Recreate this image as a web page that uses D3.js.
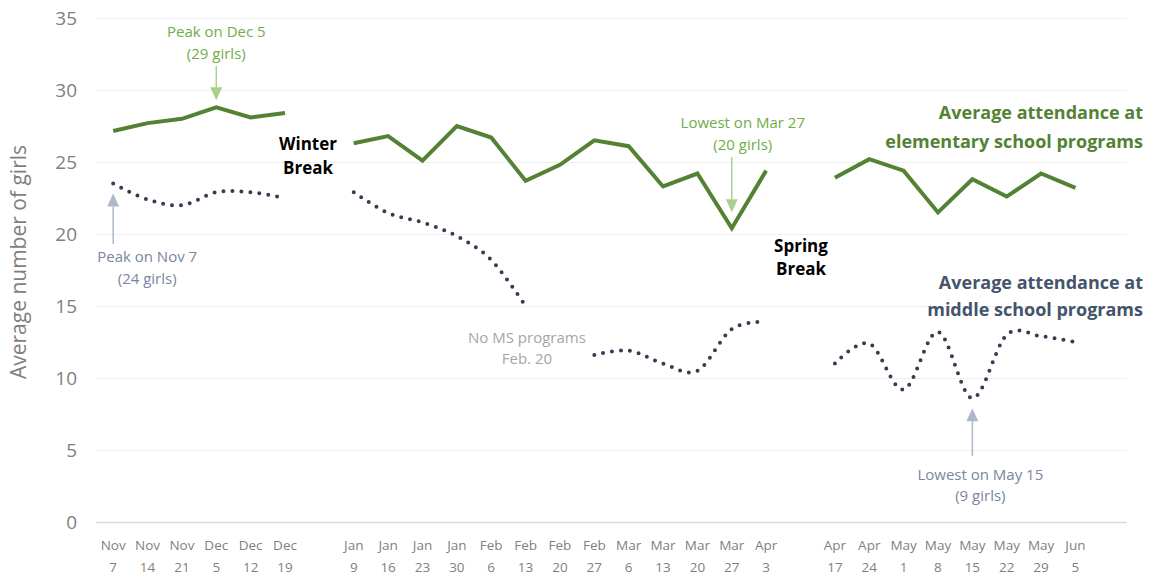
<!DOCTYPE html>
<html>
<head>
<meta charset="utf-8">
<script src="https://cdn.jsdelivr.net/npm/d3@7"></script>
<style>
  html, body { margin: 0; padding: 0; background: #fff; }
  svg { display: block; font-family: "Open Sans", Lato, sans-serif; }
</style>
</head>
<body>
<svg id="chart" width="1150" height="577"></svg>
<script>
// Weekly session dates; empty strings are the school breaks (no sessions)
const categories = [
  "Nov 7", "Nov 14", "Nov 21", "Dec 5", "Dec 12", "Dec 19", "",
  "Jan 9", "Jan 16", "Jan 23", "Jan 30", "Feb 6", "Feb 13", "Feb 20", "Feb 27",
  "Mar 6", "Mar 13", "Mar 20", "Mar 27", "Apr 3", "",
  "Apr 17", "Apr 24", "May 1", "May 8", "May 15", "May 22", "May 29", "Jun 5", ""
];

// Average attendance at elementary school programs
const elementary = [
  27.15, 27.7, 28.0, 28.8, 28.1, 28.4, null,
  26.3, 26.8, 25.1, 27.5, 26.7, 23.7, 24.8, 26.5,
  26.1, 23.3, 24.2, 20.4, 24.4, null,
  23.9, 25.2, 24.4, 21.5, 23.8, 22.6, 24.2, 23.2, null
];

// Average attendance at middle school programs (none on Feb 20)
const middle = [
  23.5, 22.4, 22.0, 22.9, 22.9, 22.5, null,
  22.9, 21.45, 20.8, 19.85, 18.2, 15.0, null, 11.6,
  11.9, 11.0, 10.5, 13.4, 13.9, null,
  11.0, 12.4, 9.2, 13.2, 8.6, 13.0, 12.9, 12.5, null
];

const yTicks = [0, 5, 10, 15, 20, 25, 30, 35];

const svg = d3.select("#chart");
const plotLeft = 96, plotRight = 1127, plotTop = 18, plotBottom = 522;

const x = d3.scaleBand()
  .domain(d3.range(categories.length))
  .range([plotLeft, plotRight])
  .padding(0);
const cx = i => x(i) + x.bandwidth() / 2;

const y = d3.scaleLinear().domain([0, 35]).range([plotBottom, plotTop]);

// Horizontal gridlines and y tick labels
const yAxis = svg.append("g")
  .attr("transform", `translate(${plotLeft},0)`)
  .call(d3.axisLeft(y).tickValues(yTicks).tickSize(-(plotRight - plotLeft)).tickPadding(19));
yAxis.select(".domain").remove();
yAxis.selectAll(".tick line")
  .attr("stroke", d => d === 0 ? "#d9d9d9" : "#efefef")
  .attr("stroke-width", d => d === 0 ? 1.5 : 1);
yAxis.selectAll(".tick text")
  .attr("fill", "#7f7f7f")
  .style("font-size", "19px")
  .style("font-family", "'Open Sans', sans-serif");

// Category labels, two lines each (month / day)
const xAxis = svg.append("g")
  .attr("transform", `translate(0,${plotBottom})`)
  .call(d3.axisBottom(x)
    .tickValues(d3.range(categories.length).filter(i => categories[i] !== ""))
    .tickSize(0)
    .tickFormat(""));
xAxis.select(".domain").remove();
xAxis.selectAll(".tick").each(function (i) {
  const parts = categories[i].split(" ");
  const t = d3.select(this).append("text")
    .attr("fill", "#7f7f7f")
    .attr("text-anchor", "middle")
    .style("font-size", "13.5px")
    .style("font-family", "'Open Sans', sans-serif");
  t.append("tspan").attr("x", 0).attr("y", 28).text(parts[0]);
  t.append("tspan").attr("x", 0).attr("y", 50).text(parts[1]);
});

// Y axis title
svg.append("text")
  .attr("transform", `translate(26,262) rotate(-90)`)
  .attr("text-anchor", "middle")
  .attr("fill", "#7f7f7f")
  .style("font-size", "21px")
  .text("Average number of girls");

// Elementary line: straight segments
const elemLine = d3.line()
  .defined(d => d != null)
  .x((d, i) => cx(i))
  .y(d => y(d));
svg.append("path")
  .datum(elementary)
  .attr("fill", "none")
  .attr("stroke", "#548235")
  .attr("stroke-width", 4)
  .attr("stroke-linejoin", "miter")
  .attr("d", elemLine);

// Middle school line: smoothed, round dots
const msLine = d3.line()
  .defined(d => d != null)
  .x((d, i) => cx(i))
  .y(d => y(d))
  .curve(d3.curveCatmullRom.alpha(0));
svg.append("path")
  .datum(middle)
  .attr("fill", "none")
  .attr("stroke", "#333f50")
  .attr("stroke-width", 4)
  .attr("stroke-linecap", "round")
  .attr("stroke-dasharray", "0 9")
  .attr("d", msLine);

// Arrow helper: vertical shaft with triangular head at (px, tipY)
function arrow(px, fromY, tipY, color) {
  const dir = tipY > fromY ? 1 : -1;
  const headLen = 13, headW = 6;
  svg.append("line")
    .attr("x1", px).attr("x2", px)
    .attr("y1", fromY).attr("y2", tipY - dir * headLen)
    .attr("stroke", color).attr("stroke-width", 1.5);
  svg.append("path")
    .attr("d", `M${px},${tipY} L${px - headW},${tipY - dir * headLen} L${px + headW},${tipY - dir * headLen} Z`)
    .attr("fill", color);
}

function label(lines, px, py, color, size, weight, anchor, lh) {
  const t = svg.append("text")
    .attr("text-anchor", anchor || "middle")
    .attr("fill", color)
    .style("font-size", size + "px")
    .style("font-weight", weight || "normal");
  lines.forEach((s, k) => t.append("tspan").attr("x", px).attr("y", py + k * lh).text(s));
}

const idx = name => categories.indexOf(name);

// Peak on Dec 5 (elementary)
{
  const i = idx("Dec 5");
  arrow(cx(i), 66, y(elementary[i]) - 7, "#a9d18e");
  label(["Peak on Dec 5", "(29 girls)"], cx(i), 37, "#70ad47", 15, "normal", "middle", 22);
}
// Lowest on Mar 27 (elementary)
{
  const i = idx("Mar 27");
  arrow(cx(i), 157, y(elementary[i]) - 16, "#a9d18e");
  label(["Lowest on Mar 27", "(20 girls)"], cx(i) + 11, 128, "#70ad47", 15, "normal", "middle", 22);
}
// Peak on Nov 7 (middle school)
{
  const i = idx("Nov 7");
  arrow(cx(i), 244, y(middle[i]) + 10, "#adb9ca");
  label(["Peak on Nov 7", "(24 girls)"], cx(i) + 34, 262, "#7886a0", 15, "normal", "middle", 22);
}
// Lowest on May 15 (middle school)
{
  const i = idx("May 15");
  arrow(cx(i), 456, y(middle[i]) + 10, "#adb9ca");
  label(["Lowest on May 15", "(9 girls)"], cx(i) + 8, 480, "#7886a0", 15, "normal", "middle", 21);
}
// No middle school programs on Feb 20
{
  const i = idx("Feb 20");
  label(["No MS programs", "Feb. 20"], cx(i) - 33, 343, "#a6a6a6", 15, "normal", "middle", 21);
}

// Break labels
label(["Winter", "Break"], 308, 150, "#000000", 17, "bold", "middle", 24);
label(["Spring", "Break"], 801, 252, "#000000", 17, "bold", "middle", 23);

// Series titles
label(["Average attendance at", "elementary school programs"], 1143, 119, "#548235", 18, "bold", "end", 29);
label(["Average attendance at", "middle school programs"], 1143, 289, "#44546a", 18, "bold", "end", 27);
</script>
</body>
</html>
